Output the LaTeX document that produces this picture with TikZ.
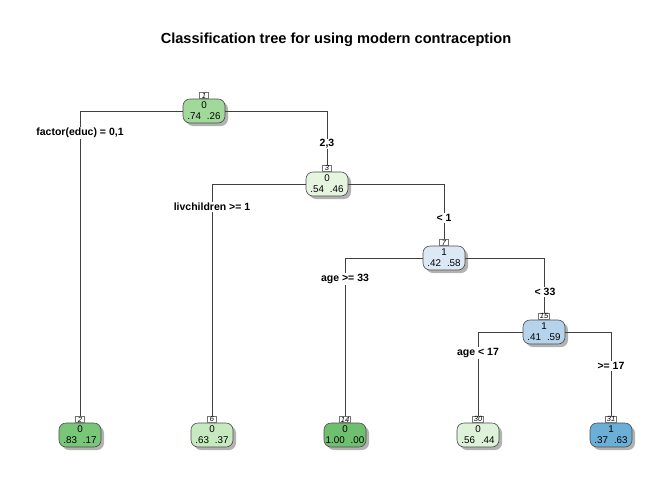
\documentclass[tikz,border=0pt]{standalone}
\usepackage{fontspec}
\setmainfont{Liberation Sans}
\usetikzlibrary{shadows}
\definecolor{cA}{RGB}{161,217,155}
\definecolor{cB}{RGB}{120,198,120}
\definecolor{cC}{RGB}{229,245,224}
\definecolor{cD}{RGB}{199,233,192}
\definecolor{cE}{RGB}{110,192,110}
\definecolor{cF}{RGB}{221,242,216}
\definecolor{cG}{RGB}{221,232,245}
\definecolor{cH}{RGB}{181,211,234}
\definecolor{cI}{RGB}{107,174,214}
\begin{document}
\begin{tikzpicture}[x=1pt,y=-1pt,
  tn/.style={draw=black!70, line width=0.6pt, rounded corners=7pt, minimum width=42pt, minimum height=24pt, inner sep=0pt, align=center, font=\fontsize{9.8}{10.8}\selectfont, drop shadow={shadow xshift=3pt, shadow yshift=-3pt, fill=black!30, opacity=1}},
  num/.style={draw=black!55, fill=white, line width=0.4pt, inner xsep=1.5pt, inner ysep=0.5pt, minimum width=9pt, font=\fontsize{7.5}{8}\selectfont\itshape, anchor=south},
  lab/.style={fill=white, inner sep=1pt, font=\bfseries\fontsize{10.5}{12}\selectfont},
  edge/.style={draw=black!75, line width=0.6pt}]
\useasboundingbox (0,0) rectangle (672,480);
\node[font=\bfseries\fontsize{14.6}{17}\selectfont] (title) at (336,40) {Classification tree for using modern contraception};
% nodes
\node[tn, fill=cA] (n1) at (204,111) {0\\.74\hspace{6pt}.26};
\node[tn, fill=cC] (n3) at (327,184) {0\\.54\hspace{6pt}.46};
\node[tn, fill=cG] (n7) at (444,258) {1\\.42\hspace{6pt}.58};
\node[tn, fill=cH] (n15) at (544,332) {1\\.41\hspace{6pt}.59};
\node[tn, fill=cB] (n2) at (80,435) {0\\.83\hspace{6pt}.17};
\node[tn, fill=cD] (n6) at (212,435) {0\\.63\hspace{6pt}.37};
\node[tn, fill=cE] (n14) at (345,435) {0\\1.00\hspace{6pt}.00};
\node[tn, fill=cF] (n30) at (478,435) {0\\.56\hspace{6pt}.44};
\node[tn, fill=cI] (n31) at (611,435) {1\\.37\hspace{6pt}.63};
% number labels
\node[num] (n1l) at (n1.north) {1};
\node[num] (n3l) at (n3.north) {3};
\node[num] (n7l) at (n7.north) {7};
\node[num] (n15l) at (n15.north) {15};
\node[num] (n2l) at (n2.north) {2};
\node[num] (n6l) at (n6.north) {6};
\node[num] (n14l) at (n14.north) {14};
\node[num] (n30l) at (n30.north) {30};
\node[num] (n31l) at (n31.north) {31};
% edges
\draw[edge] (n1.west) -| (n2l.north);
\draw[edge] (n1.east) -| (n3l.north);
\draw[edge] (n3.west) -| (n6l.north);
\draw[edge] (n3.east) -| (n7l.north);
\draw[edge] (n7.west) -| (n14l.north);
\draw[edge] (n7.east) -| (n15l.north);
\draw[edge] (n15.west) -| (n30l.north);
\draw[edge] (n15.east) -| (n31l.north);
% split labels
\node[lab] (l1) at (80,133) {factor(educ) = 0,1};
\node[lab] (l2) at (327,144) {2,3};
\node[lab] (l3) at (212,207) {livchildren >= 1};
\node[lab] (l4) at (444,218) {< 1};
\node[lab] (l5) at (345,279) {age >= 33};
\node[lab] (l6) at (545,292) {< 33};
\node[lab] (l7) at (478,353) {age < 17};
\node[lab] (l8) at (611,366) {>= 17};
\end{tikzpicture}
\end{document}
